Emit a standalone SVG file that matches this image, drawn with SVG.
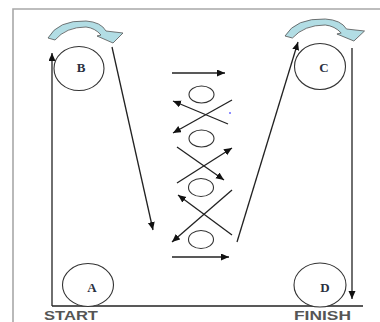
<svg xmlns="http://www.w3.org/2000/svg" xmlns:xlink="http://www.w3.org/1999/xlink" width="380" height="322" viewBox="0 0 380 322">
<style>
.ln{stroke:#222;stroke-width:1.3;fill:none}
.arr{marker-end:url(#ah)}
.nd{fill:#fff;stroke:#333;stroke-width:1.1}
.sm{fill:none;stroke:#333;stroke-width:1.1}
.lbl{font-family:"Liberation Serif",serif;font-size:13px;font-weight:bold;fill:#2a3040;text-anchor:middle}
.big{font-family:"Liberation Sans",Arial,sans-serif;font-size:13px;font-weight:bold;fill:#555}
.frame{stroke:#a8a8a8;stroke-width:1.6;fill:none}
.curl{fill:#b2dde4;stroke:#555;stroke-width:0.8}
</style>
<defs>
<marker id="ah" markerUnits="userSpaceOnUse" markerWidth="9" markerHeight="8" refX="8" refY="3.5" orient="auto">
<path d="M0,0 L8,3.5 L0,7 Z" fill="#111"/>
</marker>
<path id="curlshape" d="M48,38 Q58,20 86,21 Q101,22 106,31 L123,33 L113,43 L97,36 L101,35 Q95,28 86,27 Q66,27 55,40 Z"/>
</defs>
<rect width="380" height="322" fill="#fff"/>
<g id="frame">
<path class="frame" d="M13,322 V9 H380"/>
</g>
<g id="connectors">
<line class="ln" x1="52" y1="306" x2="363" y2="306"/>
<line class="ln arr" x1="52" y1="306" x2="52" y2="53"/>
<line class="ln arr" x1="352" y1="48" x2="352" y2="299"/>
<line class="ln arr" x1="112" y1="47" x2="153" y2="230"/>
<line class="ln arr" x1="237" y1="242" x2="298" y2="42"/>
<line class="ln arr" x1="172" y1="73" x2="225" y2="73"/>
<line class="ln arr" x1="172" y1="257" x2="229" y2="257"/>
<line class="ln arr" x1="228" y1="124" x2="173" y2="101"/>
<line class="ln arr" x1="232" y1="100" x2="173" y2="133"/>
<line class="ln arr" x1="177" y1="147" x2="224" y2="180"/>
<line class="ln arr" x1="177" y1="183" x2="232" y2="148"/>
<line class="ln arr" x1="232" y1="235" x2="178" y2="195"/>
<line class="ln arr" x1="232" y1="190" x2="172" y2="242"/>
</g>
<g id="curl-left"><use xlink:href="#curlshape" class="curl"/></g>
<g id="curl-right"><use xlink:href="#curlshape" class="curl" transform="translate(285,-2) scale(1.06,1) translate(-48,0)"/></g>
<g id="node-B"><ellipse class="nd" cx="79" cy="68.5" rx="25" ry="22"/><text class="lbl" x="81" y="72">B</text></g>
<g id="node-C"><ellipse class="nd" cx="320" cy="66.5" rx="25.5" ry="23"/><text class="lbl" x="324" y="72">C</text></g>
<g id="node-A"><ellipse class="nd" cx="88" cy="285" rx="25.5" ry="21.5"/><text class="lbl" x="92" y="292">A</text></g>
<g id="node-D"><ellipse class="nd" cx="320" cy="285" rx="26" ry="22"/><text class="lbl" x="325" y="292">D</text></g>
<g id="cone-1"><ellipse class="sm" cx="201.5" cy="94.5" rx="12.5" ry="8.5"/></g>
<g id="cone-2"><ellipse class="sm" cx="201.5" cy="138.5" rx="12.5" ry="8.5"/></g>
<g id="cone-3"><ellipse class="sm" cx="201" cy="187.5" rx="12.5" ry="9"/></g>
<g id="cone-4"><ellipse class="sm" cx="201" cy="239.5" rx="12.5" ry="9"/></g>
<circle cx="230" cy="113" r="1" fill="#6a6aff"/>
<g id="labels">
<text class="big" x="44" y="320" textLength="54" lengthAdjust="spacingAndGlyphs">START</text>
<text class="big" x="294" y="320" textLength="57" lengthAdjust="spacingAndGlyphs">FINISH</text>
</g>
</svg>
